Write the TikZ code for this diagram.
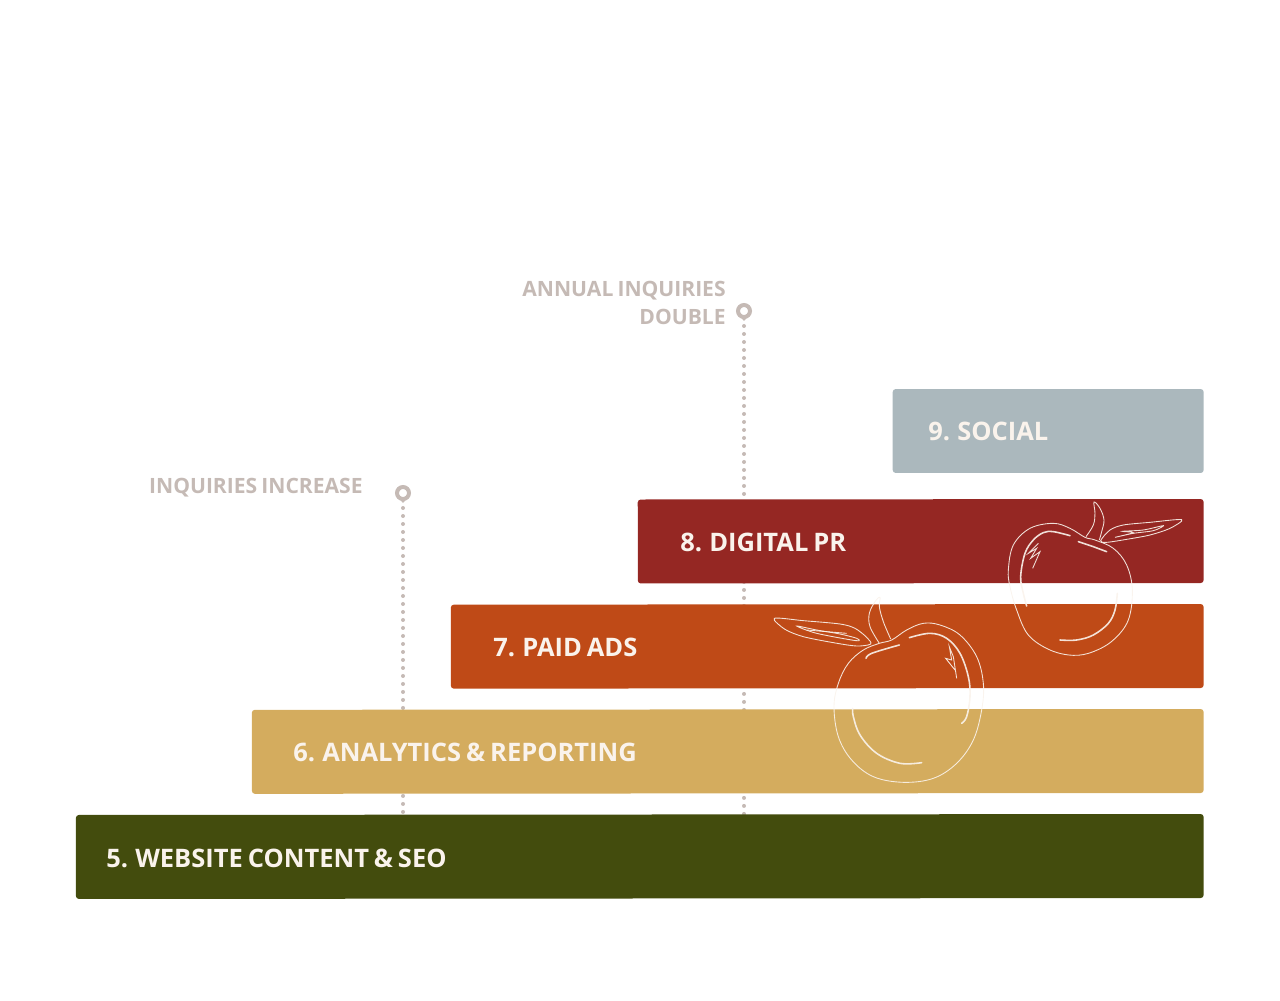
\documentclass[tikz,border=0pt]{standalone}
\usepackage{fontspec}
\setmainfont{Open Sans}[WordSpace=.75]
\usetikzlibrary{backgrounds}
\definecolor{barfive}{HTML}{434C0D}
\definecolor{barsix}{HTML}{D4AC5E}
\definecolor{barseven}{HTML}{BF4A17}
\definecolor{bareight}{HTML}{952723}
\definecolor{barnine}{HTML}{ABB8BD}
\definecolor{notegrey}{HTML}{C5BAB5}
\definecolor{cream}{HTML}{FAF3EC}
\tikzset{
	bar/.style={anchor=east, minimum height=1.68cm, inner sep=0pt, rounded corners=.06cm},
	barlabel/.style={anchor=west, inner sep=0pt, text=cream, font=\fontsize{14.5}{16}\selectfont\bfseries},
	note/.style={anchor=east, inner sep=0pt, align=right, text=notegrey, font=\fontsize{12}{16}\selectfont\bfseries},
	ring/.style={circle, draw=notegrey, line width=.08cm, minimum size=.24cm, inner sep=0pt},
	dotline/.style={draw=notegrey, line width=.08cm, line cap=round, dash pattern=on 0pt off .16cm},
	sketch/.style={draw=cream, line width=.5pt, opacity=.9},
	sketchtwo/.style={draw=cream, line width=.9pt, line cap=round, opacity=.9}
}
\begin{document}
\begin{tikzpicture}[x=.02cm,y=-.02cm]
	\useasboundingbox (0,0) rectangle (1280,1000);
	\node[bar, fill=barnine, minimum width=6.22cm] (bar9) at (1204,431) {};
	\node[bar, fill=bareight, minimum width=11.32cm, rotate=.05] (bar8) at (1204,541) {};
	\node[bar, fill=barseven, minimum width=15.06cm, rotate=.05] (bar7) at (1204,646) {};
	\node[bar, fill=barsix, minimum width=19.04cm, rotate=.05] (bar6) at (1204,751) {};
	\node[bar, fill=barfive, minimum width=22.56cm, rotate=.05] (bar5) at (1204,856) {};

	\node[barlabel] (text9) at (928,431.5) {9. SOCIAL};
	\node[barlabel] (text8) at (680,542.5) {8. DIGITAL PR};
	\node[barlabel] (text7) at (493,647.5) {7. PAID ADS};
	\node[barlabel] (text6) at (293,752.5) {6. ANALYTICS \& REPORTING};
	\node[barlabel] (text5) at (106,858.5) {5. WEBSITE CONTENT \& SEO};

	\node[note] (noteA) at (363,488) {INQUIRIES INCREASE};
	\node[note] (noteB) at (726,303) {ANNUAL INQUIRIES\\DOUBLE};

	\node[ring] (pinA) at (403,493) {};
	\node[ring] (pinB) at (744,311) {};

	\begin{pgfonlayer}{background}
		\foreach \from in {pinA,pinB}
		\draw[dotline] ([yshift=-.3cm]\from.center) -- ([yshift=-.3cm]\from.center |- bar5.north);
	\end{pgfonlayer}
	\foreach \from in {pinA,pinB}
	\fill[notegrey] ([xshift=-.07cm,yshift=-.12cm]\from.center) -- ([xshift=.07cm,yshift=-.12cm]\from.center) -- ([yshift=-.2cm]\from.center) -- cycle;

	\begin{scope}[shift={(760,490)},x=.00667cm,y=-.00667cm]
		% upper apple
		\draw[sketch] plot[smooth cycle, tension=.6] coordinates {(1005,150) (1060,175) (1100,225) (1117,300) (1105,390) (1060,450) (1000,485) (940,496) (870,480) (805,435) (770,360) (750,290) (745,240) (760,165) (810,115) (880,100) (930,115) (975,142)};
		\draw[sketch] plot[smooth, tension=.6] coordinates {(978,140) (1000,105) (1005,70) (1002,36) (1020,55) (1032,90) (1025,125) (1018,150)};
		\draw[sketch] plot[smooth cycle, tension=.5] coordinates {(1022,152) (1050,120) (1090,105) (1170,97) (1265,89) (1230,115) (1170,135) (1100,148) (1040,157)};
		\draw[sketch] plot[smooth cycle, tension=.5] coordinates {(1065,142) (1120,130) (1180,122) (1210,107) (1150,120) (1088,124) (1120,128)};
		\draw[sketchtwo] plot[smooth, tension=.6] coordinates {(930,137) (880,125) (850,128) (820,150) (795,190) (782,260) (790,310) (800,348)};
		\draw[sketchtwo] (955,155) -- (1000,170) -- (1040,185);
		\draw[sketch] (835,160) -- (805,190) -- (830,175) -- (812,205) -- (840,185) -- (818,235);
		\draw[sketchtwo] plot[smooth, tension=.6] coordinates {(900,450) (950,450) (1000,435) (1045,400) (1065,360) (1072,310)};
		% lower apple
		\draw[sketch] plot[smooth cycle, tension=.6] coordinates {(358,460) (310,480) (265,520) (235,580) (222,650) (235,740) (275,810) (340,860) (430,877) (520,865) (590,820) (640,750) (665,660) (670,580) (650,500) (600,435) (540,405) (490,400) (440,420) (395,450)};
		\draw[sketch] plot[smooth, tension=.6] coordinates {(358,460) (330,410) (328,370) (345,335) (360,322) (358,350) (370,395) (392,447)};
		\draw[sketch] plot[smooth cycle, tension=.5] coordinates {(332,462) (290,468) (220,458) (130,440) (75,418) (43,385) (130,392) (240,402) (285,415) (320,442)};
		\draw[sketch] plot[smooth cycle, tension=.5] coordinates {(110,408) (170,430) (288,452) (290,445) (240,432) (170,420)};
		\draw[sketch] (140,420) -- (260,430);
		\draw[sketchtwo] plot[smooth, tension=.6] coordinates {(318,505) (335,490) (418,465)};
		\draw[sketchtwo] plot[smooth, tension=.6] coordinates {(448,443) (510,430) (560,445) (600,490) (625,560) (630,620) (620,680) (605,700)};
		\draw[sketch] (590,565) -- (580,500) -- (568,470) -- (575,510) -- (557,505) -- (585,540);
		\draw[sketchtwo] plot[smooth, tension=.6] coordinates {(485,818) (420,820) (350,790) (300,735) (280,680) (278,655)};
	\end{scope}
\end{tikzpicture}
\end{document}
